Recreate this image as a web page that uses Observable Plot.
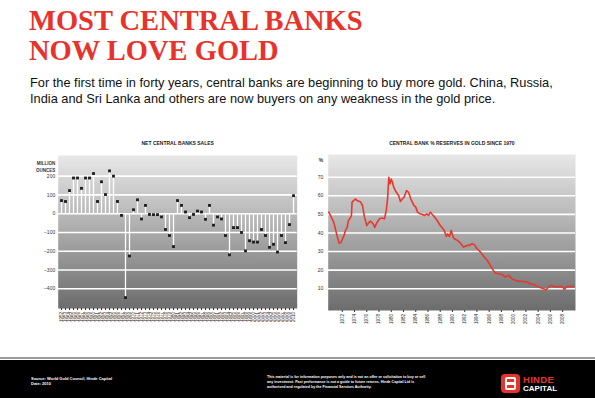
<!DOCTYPE html>
<html><head><meta charset="utf-8">
<script src="https://cdn.jsdelivr.net/npm/d3@7"></script>
<script src="https://cdn.jsdelivr.net/npm/@observablehq/plot@0.6"></script>
<style>
html,body{margin:0;padding:0;background:#fff;}
#page{position:relative;width:595px;height:398px;overflow:hidden;font-family:"Liberation Sans",Arial,sans-serif;}
.title{position:absolute;left:29px;top:6px;font-family:"Liberation Serif","Times New Roman",serif;font-weight:bold;font-size:28.5px;line-height:30px;color:#e8322c;white-space:nowrap;}
.sub{position:absolute;left:30px;top:75px;font-size:12.8px;line-height:16px;color:#111;white-space:nowrap;}
#left{position:absolute;left:20px;top:130px;}
#right{position:absolute;left:300px;top:130px;}
#rule{position:absolute;left:0;top:357px;width:595px;height:2px;background:#9a9a9a;}
#footer{position:absolute;left:0;top:360px;width:595px;height:38px;background:#000;color:#fff;}
.ft1{position:absolute;left:31px;top:16px;font-size:4px;line-height:5px;font-weight:bold;}
.ft2{position:absolute;left:267px;top:15px;font-size:3.6px;line-height:5px;font-weight:bold;}
.logo{position:absolute;left:501px;top:14px;width:19px;height:19px;border-radius:4px;background:#e8322c;}
.logo .h{position:absolute;left:4px;top:3px;width:11px;height:13px;border:2px solid #fff;box-sizing:border-box;border-radius:2px;}
.logo .bar{position:absolute;left:6px;top:8px;width:7px;height:3px;background:#fff;}
.hn{position:absolute;left:523px;top:14px;font-size:9.5px;font-weight:bold;color:#e8322c;letter-spacing:0.3px;}
.cp{position:absolute;left:523px;top:24px;font-size:8px;font-weight:bold;color:#fff;}
</style></head>
<body>
<div id="page">
  <div class="title">MOST CENTRAL BANKS<br>NOW LOVE GOLD</div>
  <div class="sub">For the first time in forty years, central banks are beginning to buy more gold. China, Russia,<br>India and Sri Lanka and others are now buyers on any weakness in the gold price.</div>
  <div id="left"></div>
  <div id="right"></div>
  <div id="rule"></div>
  <div id="footer">
    <div class="ft1">Source: World Gold Council, Hinde Capital<br>Date: 2010</div>
    <div class="ft2">This material is for information purposes only and is not an offer or solicitation to buy or sell<br>any investment. Past performance is not a guide to future returns. Hinde Capital Ltd is<br>authorised and regulated by the Financial Services Authority.</div>
    <div class="logo"><div class="h"></div><div class="bar"></div></div>
    <div class="hn">HINDE</div>
    <div class="cp">CAPITAL</div>
  </div>
</div>
<script>
// ---- Left chart data: net central bank sales/purchases ----
const yearsL = ["1952","1953","1954","1955","1956","1957","1958","1959","1960","1961",
  "1962","1963","1964","1965","1966","1967","1968","1969","1970","1971",
  "1972","1973","1974","1975","1976","1977","1978","1979","1980","1981",
  "1982","1983","1984","1985","1986","1987","1988","1989","1990","1991",
  "1992","1993","1994","1995","1996","1997","1998","1999","2000","2001",
  "2002","2003","2004","2005","2006","2007","2008","2009","2010"];
const netSales = [70,65,123,190,190,135,190,190,214,65,
  170,102,228,200,65,-9,-447,-225,21,74,
  -28,44,-4,-5,-5,-17,-84,-116,-175,70,
  44,9,-21,-4,14,9,-30,44,-61,-17,
  -28,-116,-219,-74,-74,-100,-198,-144,-151,-151,
  -84,-116,-179,-163,-204,-116,-154,-58,96];
const ticksL = [200,100,0,-100,-200,-300,-400];

// ---- Right chart data: central bank % reserves in gold ----
const yearsR = [1969.8,1970.6,1971.2,1971.5,1971.8,1972.3,1972.5,1972.8,1973.0,1973.3,1973.5,1973.6,1973.9,1974.2,1974.4,1975.0,1975.3,1975.6,1976.0,1976.4,1976.6,1977.1,1977.3,1977.7,1978.1,1978.5,1978.9,1979.2,1979.4,1979.6,1979.8,1980.0,1980.2,1980.4,1980.8,1981.2,1981.5,1981.8,1982.1,1982.5,1982.8,1983.0,1983.3,1983.7,1984.0,1984.3,1984.7,1985.1,1985.4,1985.8,1986.1,1986.4,1986.7,1987.1,1987.5,1988.0,1988.6,1989.0,1989.2,1989.5,1989.8,1990.1,1990.3,1990.8,1991.3,1991.8,1992.4,1992.8,1993.2,1993.6,1994.0,1994.6,1995.1,1995.7,1996.2,1996.6,1997.0,1997.6,1998.1,1998.6,1999.2,1999.7,2000.3,2000.8,2001.6,2002.2,2002.7,2003.3,2003.8,2004.4,2004.9,2005.3,2005.7,2006.1,2006.5,2007.1,2007.6,2008.0,2008.3,2008.6,2009.0,2009.4,2009.8];
const goldPct = [51.2,45.8,37.8,34.5,35,38.7,41.3,43,46.7,48,49.5,56.6,57.5,58.3,57.5,56.6,54.8,48.9,44,45.8,46.4,44.6,43,45.8,47.6,48,47.6,52.4,58.3,70,66.4,69,67.3,64.6,62,60.2,56.9,58.3,59.2,62.8,62,60.2,57.5,54.8,53.9,51.2,50.3,49.9,49.4,50.3,49.4,51.2,49.9,48.5,46.7,44,41.7,38.1,39.5,38.1,41.3,37.8,36.9,36,34.5,32.4,33.3,33.3,34.2,33.7,31.5,29.7,27.4,25.2,22.5,20.2,18.4,18.1,17.7,16.3,17.2,15.4,14.5,14.1,13.9,13.6,12.7,12.3,11.4,10.5,10,9.5,10.9,11.8,11.3,10.9,11.3,10.9,9.6,10.9,11.3,11.3,11.3];
const ticksRX = [1972,1974,1976,1978,1980,1982,1984,1986,1988,1990,1992,1994,1996,1998,2000,2002,2004,2006,2008];
const ticksRY = [70,60,50,40,30,20,10];

const gradDefs = (id) => () => {
  const defs = d3.create("svg:defs");
  const g = defs.append("linearGradient").attr("id", id)
    .attr("x1", 0).attr("y1", 0).attr("x2", 0).attr("y2", 1);
  g.append("stop").attr("offset", "0%").attr("stop-color", "#e8e8e8");
  g.append("stop").attr("offset", "100%").attr("stop-color", "#6c6c6c");
  return defs.node();
};

const dataL = yearsL.map((y, i) => ({year: y, v: netSales[i]}));
const left = Plot.plot({
  width: 285, height: 200,
  marginLeft: 37.7, marginRight: 8.3, marginTop: 25, marginBottom: 22,
  style: {fontFamily: "Liberation Sans, Arial, sans-serif", background: "transparent", overflow: "visible"},
  x: {type: "band", domain: yearsL, padding: 0},
  y: {domain: [-505, 310]},
  marks: [
    gradDefs("gradL"),
    Plot.frame({fill: "url(#gradL)", stroke: "none"}),
    Plot.gridY(ticksL, {stroke: "#fff", strokeOpacity: 1, strokeWidth: 1.6}),
    Plot.ruleX(dataL, {x: "year", y1: 0, y2: "v", stroke: "#fff", strokeWidth: 1.3}),
    Plot.dot(dataL, {x: "year", y: "v", symbol: "square", r: 1.6, fill: "#1c1c1c", stroke: "none"}),
    Plot.axisY({ticks: ticksL, tickSize: 0, tickPadding: 3, fontSize: 5, fill: "#333", label: null}),
    Plot.axisX({tickSize: 2, tickRotate: -90, fontSize: 4.5, tickPadding: 1.5, fill: "#222", stroke: "#333", label: null}),
    Plot.text(["NET CENTRAL BANKS SALES"], {frameAnchor: "top", dy: -14, fontSize: 5, fontWeight: "bold", fill: "#222"}),
    Plot.text(["MILLION\nOUNCES"], {frameAnchor: "top-left", dx: -3, dy: 4, textAnchor: "end", fontSize: 4.5, fontWeight: "bold", fill: "#333", lineHeight: 1.6})
  ]
});
document.getElementById("left").appendChild(left);

const dataR = yearsR.map((y, i) => ({t: y, v: goldPct[i]}));
const right = Plot.plot({
  width: 290, height: 200,
  marginLeft: 27.7, marginRight: 15, marginTop: 24, marginBottom: 20,
  style: {fontFamily: "Liberation Sans, Arial, sans-serif", background: "transparent", overflow: "visible"},
  x: {domain: [1969.7, 2010.1]},
  y: {domain: [-1.7, 82.2]},
  marks: [
    gradDefs("gradR"),
    Plot.frame({fill: "url(#gradR)", stroke: "none"}),
    Plot.gridY(ticksRY, {stroke: "#fff", strokeOpacity: 1, strokeWidth: 1.6}),
    Plot.line(dataR, {x: "t", y: "v", stroke: "#e8382e", strokeWidth: 1.6, strokeLinejoin: "round"}),
    Plot.axisY({ticks: ticksRY, tickSize: 0, tickPadding: 5, fontSize: 5, fill: "#333", label: null}),
    Plot.axisX({ticks: ticksRX, tickFormat: d => String(d), tickSize: 2, tickRotate: -90, fontSize: 4.5, tickPadding: 1.5, fill: "#222", stroke: "#333", label: null}),
    Plot.text(["CENTRAL BANK % RESERVES IN GOLD SINCE 1970"], {frameAnchor: "top", dy: -13, fontSize: 5, fontWeight: "bold", fill: "#222"}),
    Plot.text(["%"], {frameAnchor: "top-left", dx: -5, dy: 4, textAnchor: "end", fontSize: 5, fontWeight: "bold", fill: "#333"})
  ]
});
document.getElementById("right").appendChild(right);
</script>
</body></html>
